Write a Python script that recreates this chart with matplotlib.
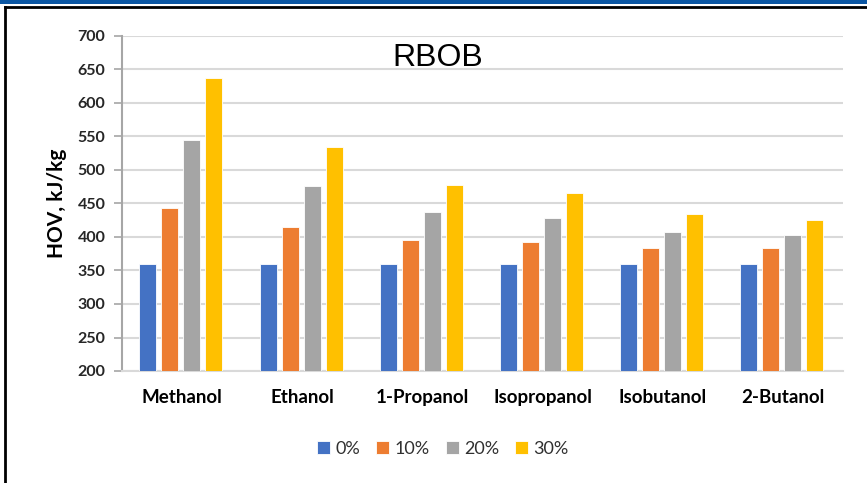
import numpy as np
import matplotlib.pyplot as plt
from matplotlib.patches import Rectangle
from matplotlib.lines import Line2D

alcohols = ['Methanol', 'Ethanol', '1-Propanol', 'Isopropanol', 'Isobutanol', '2-Butanol']
blends = ['0%', '10%', '20%', '30%']
hov_0 = [359, 359, 359, 359, 359, 359]
hov_10 = [444, 415, 396, 392, 383, 383]
hov_20 = [545, 476, 438, 428, 407, 403]
hov_30 = [638, 535, 478, 465, 434, 425]
colors = ['#4472c4', '#ed7d31', '#a5a5a5', '#ffc000']

W, H = 867, 483
fig = plt.figure(figsize=(W / 100, H / 100), dpi=100)
ax = fig.add_axes([122 / W, 1 - 371 / H, (843 - 122) / W, (371 - 36) / H])

x = np.arange(len(alcohols))
step = 0.183
width = 0.142
for i, (vals, lab) in enumerate(zip([hov_0, hov_10, hov_20, hov_30], blends)):
    ax.bar(x + (i - 1.5) * step - 0.01, np.array(vals) - 200, width, bottom=200,
           color=colors[i], edgecolor='white', linewidth=0.6, label=lab, zorder=3)

ax.set_xlim(-0.5, len(alcohols) - 0.5)
ax.set_ylim(200, 700)
ax.set_yticks(np.arange(200, 701, 50))
ax.yaxis.grid(True, color='#d9d9d9', linewidth=1.5, zorder=0)
ax.set_axisbelow(True)

for s in ['top', 'right']:
    ax.spines[s].set_visible(False)
ax.spines['left'].set_color('#a6a6a6')
ax.spines['left'].set_linewidth(1.5)
ax.spines['bottom'].set_color('#d9d9d9')
ax.spines['bottom'].set_linewidth(1.5)

ax.tick_params(axis='y', length=6, width=1.2, color='#a6a6a6', pad=6,
               labelsize=11.5, labelcolor='#262626')
ax.tick_params(axis='x', length=0, pad=13, labelsize=13.5, labelcolor='black')
ax.set_xticks(x)
ax.set_xticklabels(alcohols)
for t in ax.get_yticklabels() + ax.get_xticklabels():
    t.set_family('Lato')
    t.set_fontweight('bold')

ax.set_ylabel('HOV, kJ/kg', fontsize=15, fontweight='bold', family='Lato')
ax.yaxis.set_label_coords(-0.076, 0.5)

ax.text(438 / W, 1 - 58 / H, 'RBOB', transform=fig.transFigure, ha='center',
        va='center', fontsize=23, family='Liberation Sans')

leg = fig.legend(loc='center', bbox_to_anchor=(443 / W, 1 - 449 / H), ncol=4,
                 frameon=False, prop={'family': 'Lato', 'size': 13},
                 handlelength=0.7, handleheight=0.7, handletextpad=0.3,
                 columnspacing=0.9)
for t in leg.get_texts():
    t.set_color('#303030')

# frame decorations from the screenshot
fig.add_artist(Rectangle((0, 1 - 3.5 / H), 1, 3.5 / H, transform=fig.transFigure,
                         color='#0b57a4', lw=0))
fig.add_artist(Line2D([5 / W, 1], [1 - 6.5 / H, 1 - 6.5 / H], transform=fig.transFigure,
                      color='black', lw=2))
fig.add_artist(Line2D([5 / W, 5 / W], [0, 1 - 6.5 / H], transform=fig.transFigure,
                      color='black', lw=2))

fig.savefig('out.png', dpi=100)
